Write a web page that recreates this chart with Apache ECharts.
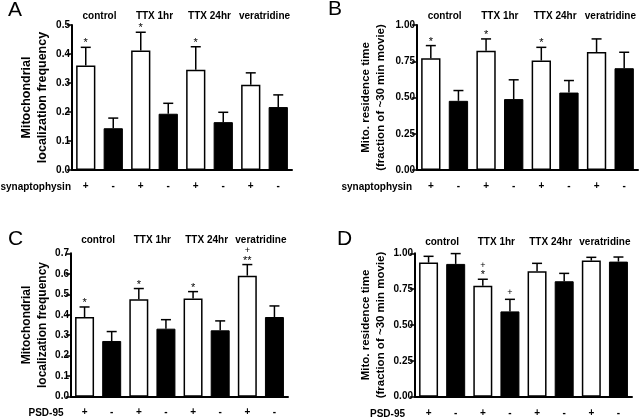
<!DOCTYPE html>
<html><head><meta charset="utf-8">
<script src="https://cdn.jsdelivr.net/npm/echarts@6/dist/echarts.min.js"></script>
<style>html,body{margin:0;padding:0;background:#fff}#c{width:640px;height:419px}</style>
</head><body><div id="c"></div>
<script>
// ---- data ----
const groups = ['control', 'TTX 1hr', 'TTX 24hr', 'veratridine'];
const marker = ['+', '-', '+', '-', '+', '-', '+', '-'];

const meanA = [0.360, 0.144, 0.412, 0.194, 0.346, 0.165, 0.294, 0.217];
const upperA = [0.423, 0.179, 0.475, 0.230, 0.425, 0.199, 0.335, 0.259];
const sigA = ['*', '', '*', '', '*', '', '', ''];

const meanB = [0.771, 0.477, 0.823, 0.489, 0.755, 0.534, 0.814, 0.702];
const upperB = [0.858, 0.548, 0.904, 0.622, 0.846, 0.617, 0.904, 0.812];
const sigB = ['*', '', '*', '', '*', '', '', ''];

const meanC = [0.389, 0.272, 0.476, 0.332, 0.479, 0.324, 0.591, 0.389];
const upperC = [0.438, 0.318, 0.528, 0.376, 0.513, 0.370, 0.645, 0.443];
const sigC = ['*', '', '*', '', '*', '', '+\n**', ''];

const meanD = [0.935, 0.926, 0.774, 0.595, 0.874, 0.805, 0.949, 0.942];
const upperD = [0.979, 0.998, 0.819, 0.679, 0.930, 0.860, 0.972, 0.974];
const sigD = ['', '', '+\n*', '+', '', '', '', ''];

const yTicksA = {max: 0.5, interval: 0.1, dec: 1};
const yTicksB = {max: 1.0, interval: 0.25, dec: 2};
const yTicksC = {max: 0.7, interval: 0.1, dec: 1};
const yTicksD = {max: 1.0, interval: 0.25, dec: 2};

const FONT = 'Liberation Sans';

const panels = [
  {mean: meanA, upper: upperA, sig: sigA, ticks: yTicksA, grid: {left: 72, top: 25, width: 220, height: 145},
   yname: 'Mitochondrial\nlocalization frequency', nameGap: 22, nameSize: 12.5, topMargin: 4, botMargin: 11},
  {mean: meanB, upper: upperB, sig: sigB, ticks: yTicksB, grid: {left: 417, top: 25, width: 221, height: 145},
   yname: 'Mito. residence time\n(fraction of ~30 min movie)', nameGap: 28, nameSize: 11.5, topMargin: 4, botMargin: 11},
  {mean: meanC, upper: upperC, sig: sigC, ticks: yTicksC, grid: {left: 71, top: 253.3, width: 217, height: 143.4},
   yname: 'Mitochondrial\nlocalization frequency', nameGap: 21, nameSize: 12, topMargin: 8, botMargin: 10.5},
  {mean: meanD, upper: upperD, sig: sigD, ticks: yTicksD, grid: {left: 415, top: 253.3, width: 217, height: 143.4},
   yname: 'Mito. residence time\n(fraction of ~30 min movie)', nameGap: 26, nameSize: 11.5, topMargin: 6, botMargin: 11.5}
];

const grid = [], xAxis = [], yAxis = [], series = [];
panels.forEach((p, i) => {
  grid.push(p.grid);
  xAxis.push({
    gridIndex: i, type: 'category', data: marker, position: 'bottom',
    axisLine: {lineStyle: {color: '#000', width: 2}}, axisTick: {show: false},
    axisLabel: {interval: 0, margin: p.botMargin, color: '#000', fontFamily: FONT, fontWeight: 'bold', fontSize: 10}
  });
  yAxis.push({
    gridIndex: i, type: 'value', min: 0, max: p.ticks.max, interval: p.ticks.interval,
    splitLine: {show: false},
    axisLine: {show: true, lineStyle: {color: '#000', width: 2}},
    axisTick: {show: true, length: 5, lineStyle: {color: '#000', width: 1.5}},
    axisLabel: {margin: 2, color: '#000', fontFamily: FONT, fontWeight: 'bold', fontSize: 10,
      formatter: (v) => v.toFixed(p.ticks.dec)},
    name: p.yname, nameLocation: 'middle', nameRotate: 90, nameGap: p.nameGap,
    nameTextStyle: {color: '#000', fontFamily: FONT, fontWeight: 'bold', fontSize: p.nameSize, lineHeight: 15.5}
  });
  series.push({
    type: 'bar', xAxisIndex: i, yAxisIndex: i, barWidth: '70%',
    data: p.mean.map((v, k) => ({
      value: v,
      itemStyle: marker[k] === '+' ? {color: '#fff', borderColor: '#000', borderWidth: 1.5}
                                   : {color: '#000', borderColor: '#000', borderWidth: 1}
    }))
  });
  series.push({
    type: 'custom', xAxisIndex: i, yAxisIndex: i, z: 5,
    data: p.mean.map((v, k) => [k, v, p.upper[k]]),
    renderItem: (params, api) => {
      const k = api.value(0);
      const a = api.coord([k, api.value(1)]);
      const b = api.coord([k, api.value(2)]);
      const cw = 5;
      const children = [
        {type: 'line', shape: {x1: a[0], y1: a[1], x2: b[0], y2: b[1]}, style: {stroke: '#000', lineWidth: 1.5}},
        {type: 'line', shape: {x1: b[0] - cw, y1: b[1], x2: b[0] + cw, y2: b[1]}, style: {stroke: '#000', lineWidth: 1.5}}
      ];
      const s = p.sig[params.dataIndex];
      if (s) {
        const lines = s.split('\n').reverse();
        lines.forEach((t, j) => {
          const vis = b[1] - 6.5 - 6.8 * j;
          const isStar = t.indexOf('*') >= 0;
          children.push({type: 'text', style: {
            x: b[0], y: isStar ? vis + 2.6 : vis - 0.5, text: t, align: 'center', verticalAlign: 'middle',
            fill: '#000', font: (isStar ? '11px ' : '9px ') + FONT
          }});
        });
      }
      return {type: 'group', children};
    }
  });
});
// top axes for group names
panels.forEach((p, i) => {
  xAxis.push({
    gridIndex: i, type: 'category', data: groups, position: 'top',
    axisLine: {show: false}, axisTick: {show: false},
    axisLabel: {interval: 0, margin: p.topMargin, color: '#000', fontFamily: FONT, fontWeight: 'bold', fontSize: 10}
  });
});

const letters = ['A', 'B', 'C', 'D'];
const condNames = ['synaptophysin', 'synaptophysin', 'PSD-95', 'PSD-95'];
const letterPos = [[8, 10], [328, 9.5], [8, 239.5], [337, 239.5]];
const condPos = [[71, 187.3], [412, 187.3], [63.5, 413.3], [405, 414.3]];
const graphic = [];
letters.forEach((t, i) => graphic.push({type: 'text', x: letterPos[i][0], y: letterPos[i][1],
  style: {text: t, font: '21px ' + FONT, fill: '#000', verticalAlign: 'middle', align: 'left'}}));
condNames.forEach((t, i) => graphic.push({type: 'text', x: condPos[i][0], y: condPos[i][1],
  style: {text: t, font: 'bold 10px ' + FONT, fill: '#000', verticalAlign: 'middle', align: 'right'}}));

const chart = echarts.init(document.getElementById('c'), null, {renderer: 'canvas'});
chart.setOption({animation: false, backgroundColor: '#fff', grid, xAxis, yAxis, series, graphic});
</script></body></html>
